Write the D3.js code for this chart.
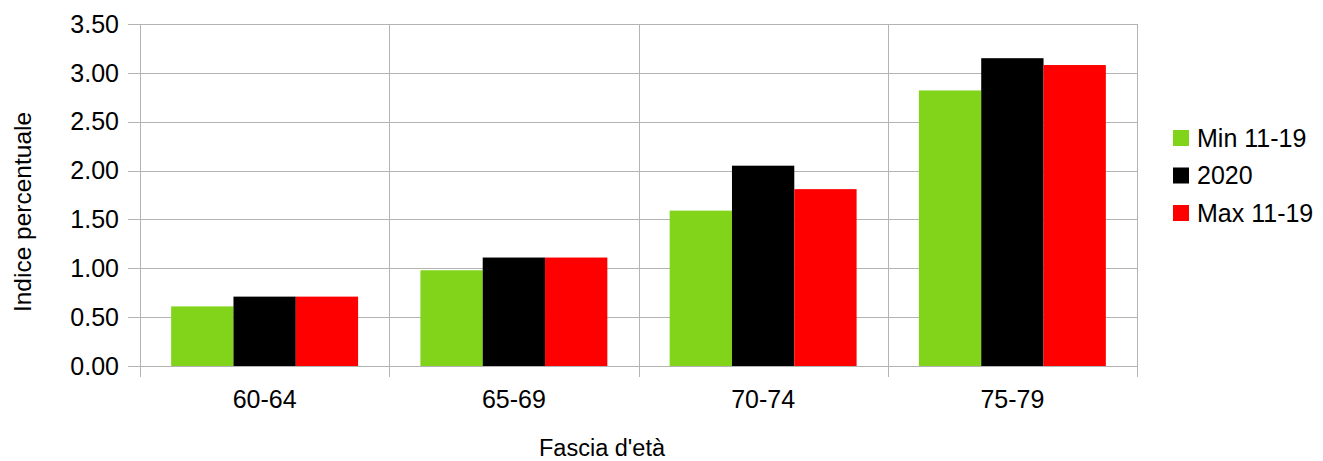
<!DOCTYPE html>
<html><head><meta charset="utf-8">
<script src="https://cdn.jsdelivr.net/npm/d3@7"></script>
<style>
html,body{margin:0;padding:0;background:#fff;}
svg{display:block;font-family:"Liberation Sans",Arial,sans-serif;}
</style></head>
<body>
<svg id="chart" width="1323" height="461"></svg>
<script>
const categories = ["60-64", "65-69", "70-74", "75-79"];
const seriesNames = ["Min 11-19", "2020", "Max 11-19"];
const seriesColors = ["#81d41a", "#000000", "#ff0000"];
const minValues = [0.61, 0.98, 1.59, 2.82];
const values2020 = [0.71, 1.11, 2.05, 3.15];
const maxValues = [0.71, 1.11, 1.81, 3.08];
const yTicks = [0, 0.5, 1, 1.5, 2, 2.5, 3, 3.5];

const seriesValues = [minValues, values2020, maxValues];
const svg = d3.select("#chart");
const L = 140, R = 1137, T = 24, B = 366;
const grid = "#b3b3b3";

const x0 = d3.scaleBand().domain(categories).range([L, R]).padding(0);
const x1 = d3.scaleBand().domain(seriesNames).range([0, x0.bandwidth()]).paddingInner(0).paddingOuter(0.5);
const y = d3.scaleLinear().domain([0, 3.5]).range([B, T]);

// horizontal gridlines + left ticks
svg.append("g").selectAll("line").data(yTicks).join("line")
  .attr("x1", L - 12).attr("x2", R)
  .attr("y1", d => Math.round(y(d)) + 0.5).attr("y2", d => Math.round(y(d)) + 0.5)
  .attr("stroke", grid).attr("stroke-width", 1);

// vertical gridlines at category boundaries
const bounds = categories.map(c => x0(c)).concat([R]);
svg.append("g").selectAll("line").data(bounds).join("line")
  .attr("x1", d => Math.round(d) + 0.5).attr("x2", d => Math.round(d) + 0.5)
  .attr("y1", T).attr("y2", B + 11)
  .attr("stroke", grid).attr("stroke-width", 1);

// bars
const groups = svg.append("g").selectAll("g").data(categories).join("g")
  .attr("transform", c => `translate(${x0(c)},0)`);
groups.selectAll("rect")
  .data((c, i) => seriesNames.map((s, j) => ({s, j, v: seriesValues[j][i]})))
  .join("rect")
  .attr("x", d => x1(d.s))
  .attr("width", x1.bandwidth())
  .attr("y", d => y(d.v))
  .attr("height", d => y(0) - y(d.v))
  .attr("fill", d => seriesColors[d.j]);

// y tick labels
svg.append("g").selectAll("text").data(yTicks).join("text")
  .attr("x", 119).attr("y", d => y(d))
  .attr("dy", "0.35em")
  .attr("text-anchor", "end")
  .attr("font-size", 25).attr("fill", "#000")
  .text(d => d3.format(".2f")(d));

// x tick labels
svg.append("g").selectAll("text").data(categories).join("text")
  .attr("x", c => x0(c) + x0.bandwidth() / 2).attr("y", 408)
  .attr("text-anchor", "middle")
  .attr("font-size", 25).attr("fill", "#000")
  .text(c => c);

// axis titles
svg.append("text").attr("x", 602).attr("y", 456)
  .attr("text-anchor", "middle").attr("font-size", 23.5).attr("fill", "#000")
  .text("Fascia d'età");
svg.append("text").attr("transform", "translate(31,212) rotate(-90)")
  .attr("text-anchor", "middle").attr("font-size", 24.5).attr("fill", "#000")
  .text("Indice percentuale");

// legend
const leg = svg.append("g").selectAll("g").data(seriesNames).join("g")
  .attr("transform", (d, i) => `translate(1173,${130 + i * 37.5})`);
leg.append("rect").attr("width", 16).attr("height", 16)
  .attr("fill", (d, i) => seriesColors[i]);
leg.append("text").attr("x", 24).attr("y", 8).attr("dy", "0.35em")
  .attr("font-size", 25).attr("fill", "#000").text(d => d);
</script>
</body></html>
